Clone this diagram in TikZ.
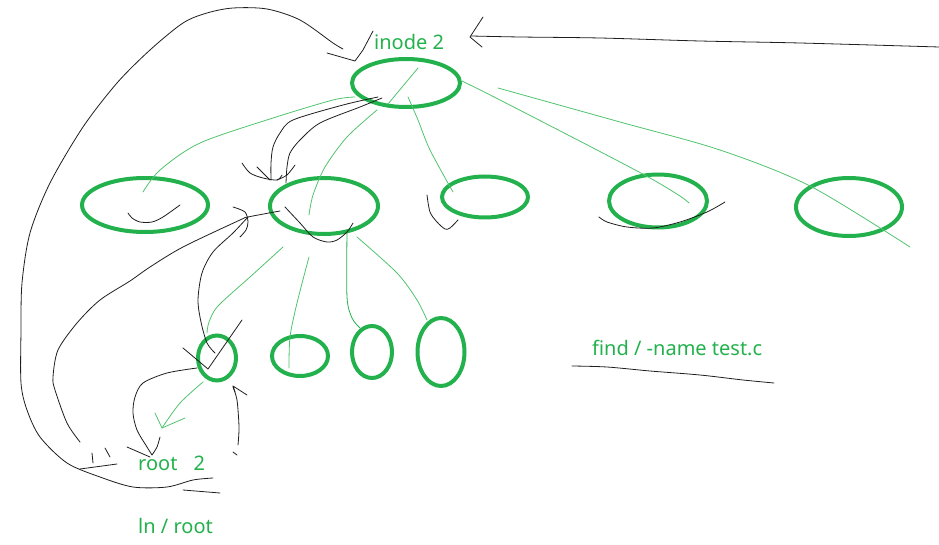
\documentclass[tikz,border=0pt]{standalone}
\usepackage{fontspec}
\setmainfont{Noto Sans}
\usetikzlibrary{shapes.geometric}
\definecolor{pgreen}{RGB}{34,177,76}
\definecolor{lgreen}{RGB}{80,195,110}
\definecolor{pen}{RGB}{30,30,30}
\tikzset{
  ring/.style={draw=pgreen, line width=4pt, ellipse, inner sep=0pt},
  gline/.style={draw=lgreen, line width=0.8pt, line cap=round, line join=round},
  bline/.style={draw=pen, line width=0.8pt, line cap=round, line join=round},
  lbl/.style={text=pgreen, font=\fontsize{20}{24}\selectfont, inner sep=0pt, anchor=base west}
}
\begin{document}
\begin{tikzpicture}[x=1pt,y=-1pt]
\useasboundingbox (0,0) rectangle (939,545);
% ellipses
\node[ring, minimum width=108pt, minimum height=48pt] (top) at (406,83) {};
\node[ring, minimum width=126pt, minimum height=54pt] (l1) at (145,205) {};
\node[ring, minimum width=108pt, minimum height=56pt] (l2) at (324,206) {};
\node[ring, minimum width=86pt, minimum height=41pt] (l3) at (485,197) {};
\node[ring, minimum width=98pt, minimum height=53pt] (l4) at (658,201) {};
\node[ring, minimum width=106pt, minimum height=58pt] (l5) at (849,207) {};
\node[ring, minimum width=38pt, minimum height=45pt] (b1) at (217,358) {};
\node[ring, minimum width=56pt, minimum height=40pt] (b2) at (300,356) {};
\node[ring, minimum width=40pt, minimum height=52pt] (b3) at (372,352) {};
\node[ring, minimum width=47pt, minimum height=68pt] (b4) at (441,352) {};
% labels
\node[lbl] (tinode) at (374,50) {inode 2};
\node[lbl] (troot) at (138,470) {root\hspace{0.55em} 2};
\node[lbl] (tln) at (138,533) {ln / root};
\node[lbl] (tfind) at (592,355) {find / -name test.c};
% green tree edges
\draw[gline] plot[smooth] coordinates {(355,97) (333,100) (273,118) (200,143) (160,170) (143,192)};
\draw[gline] plot[smooth] coordinates {(418,68) (403,86) (388,104)};
\draw[gline] plot[smooth] coordinates {(377,110) (347,137) (325,167) (313,195) (309,215)};
\draw[gline] plot[smooth] coordinates {(408,97) (418,120) (430,150) (453,192)};
\draw[gline] plot[smooth] coordinates {(462,81) (500,100) (597,150) (650,178) (680,196) (689,203)};
\draw[gline] plot[smooth] coordinates {(498,88) (620,122) (720,150) (810,186) (910,247)};
\draw[gline] plot[smooth] coordinates {(283,247) (250,277) (218,306) (209,322) (207,333)};
\draw[gline] plot[smooth] coordinates {(309,257) (297,303) (290,337) (289,368)};
\draw[gline, draw=pgreen] plot[smooth] coordinates {(347,233) (347,297) (352,318) (360,328)};
\draw[gline] plot[smooth] coordinates {(357,237) (397,273) (417,300) (427,320)};
\draw[gline] plot[smooth] coordinates {(203,382) (180,403) (162,428)};
\draw[gline] (155,413) -- (162,428) -- (185,418);
% black strokes: top arrow from the right
\draw[bline] plot[smooth] coordinates {(939,47) (800,43) (700,41) (600,38) (520,37) (471,36)};
\draw[bline] (483,17) -- (470,37) -- (482,47);
% big outer loop
\draw[bline] plot[smooth] coordinates {(343,49) (333,43) (300,20) (267,9) (233,8) (207,13) (183,23) (150,50) (117,83) (83,127) (50,183) (30,233) (22,283) (21,330) (21,383) (27,410) (40,437) (67,463) (100,477) (133,487) (167,487) (193,480) (213,478)};
\draw[bline] (327,53) -- (355,61) -- (363,50) -- (373,31);
\draw[bline] (183,490) -- (220,493);
% inner loop into middle ellipse
\draw[bline] plot[smooth] coordinates {(80,442) (67,423) (55,390) (53,377) (58,350) (77,323) (100,300) (130,281) (150,267) (183,247) (240,220) (248,217) (280,211)};
\draw[bline] plot[smooth] coordinates {(233,207) (245,212) (248,222) (246,230) (240,237)};
\draw[bline] (92,453) -- (93,463);
\draw[bline] (105,448) -- (110,457);
\draw[bline] (80,469) -- (117,464);
% curve from middle ellipse down to small ellipse
\draw[bline] plot[smooth] coordinates {(248,217) (233,233) (213,252) (202,273) (198,300) (201,322) (207,343) (215,353)};
\draw[bline] (183,348) -- (208,369) -- (242,320);
% curve from small ellipse to root
\draw[bline] plot[smooth] coordinates {(197,368) (167,373) (143,383) (135,397) (133,413) (137,430) (147,447) (152,455)};
\draw[bline] (127,447) -- (150,457);
\draw[bline] plot[smooth] coordinates {(160,437) (157,447) (152,455)};
% arrow up into small ellipse
\draw[bline] plot[smooth] coordinates {(238,445) (239,427) (237,400) (233,387)};
\draw[bline] (233,452) -- (237,455);
\draw[bline] (247,395) -- (233,386) -- (235,392);
% double stroke from top ellipse to middle ellipse
\draw[bline] plot[smooth] coordinates {(378,97) (343,105) (293,120) (280,133) (273,147) (271,163) (271,180)};
\draw[bline] plot[smooth] coordinates {(382,98) (360,107) (320,123) (300,140) (290,153) (287,167) (286,183)};
\draw[bline] plot[smooth] coordinates {(242,163) (250,173) (263,178) (277,180) (282,175)};
\draw[bline] (257,167) -- (270,180);
\draw[bline] plot[smooth] coordinates {(295,165) (287,175) (277,180)};
% squiggles in/near ellipses
\draw[bline] plot[smooth] coordinates {(128,213) (132,218) (140,222) (152,222) (163,217) (180,205)};
\draw[bline] plot[smooth] coordinates {(285,207) (300,223) (313,237) (327,242) (337,240) (347,232) (353,223)};
\draw[bline] plot[smooth] coordinates {(427,195) (430,212) (437,222) (445,229) (450,228) (458,220)};
\draw[bline] plot[smooth] coordinates {(599,217) (607,222) (627,227) (653,228) (680,222) (707,212) (725,202)};
% underline of the command
\draw[bline] plot[smooth] coordinates {(572,366) (607,367) (650,371) (700,375) (743,380) (774,383)};
\end{tikzpicture}
\end{document}
